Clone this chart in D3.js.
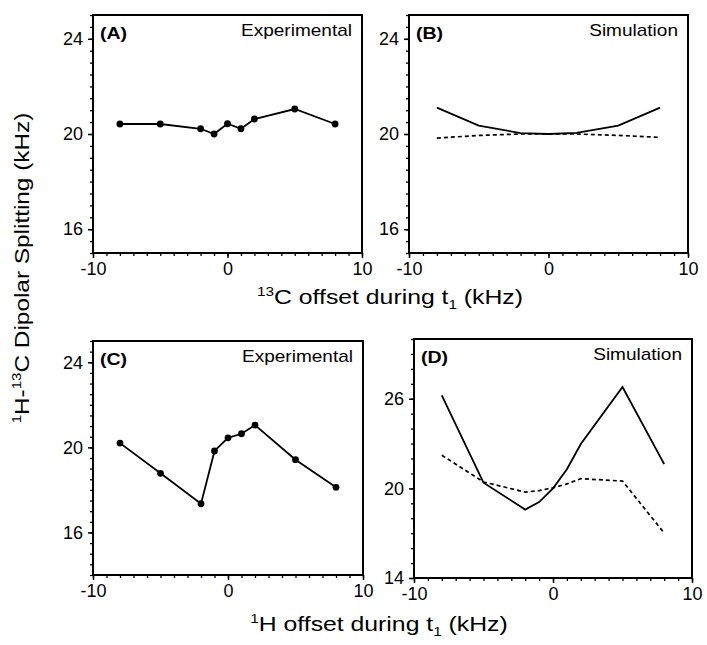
<!DOCTYPE html>
<html>
<head>
<meta charset="utf-8">
<script src="https://cdn.jsdelivr.net/npm/d3@7"></script>
<style>
  body { margin: 0; background: #fff; }
  svg text { font-family: "Liberation Sans", Arial, Helvetica, sans-serif; fill: #000; }
</style>
</head>
<body>
<svg id="chart" width="707" height="645"></svg>
<script>
// offsets in kHz
const offsets = [-8, -5, -2, -1, 0, 1, 2, 5, 8];
const simOffsetsB = [-8, -5, -2, 0, 2, 5, 8];

// (A) experimental, 13C offset
const expA = [20.42, 20.42, 20.22, 20.0, 20.43, 20.22, 20.63, 21.05, 20.42];
// (B) simulation, 13C offset
const simBSolid = [21.11, 20.35, 20.04, 20.0, 20.05, 20.35, 21.11];
const simBDash = [19.83, 19.94, 20.0, 20.0, 20.0, 19.94, 19.86];
// (C) experimental, 1H offset
const expC = [20.2, 18.78, 17.35, 19.83, 20.45, 20.64, 21.05, 19.42, 18.12];
// (D) simulation, 1H offset
const simDSolid = [26.22, 20.38, 18.58, 19.08, 20.0, 21.28, 22.97, 26.79, 21.62];
const simDDash = [22.22, 20.43, 19.75, 19.85, 20.04, 20.3, 20.65, 20.49, 17.01];

const xTicks = [-10, 0, 10];

const svg = d3.select("#chart");
const fmt = d => String(d);   // plain hyphen, like the original

// text that is a bit wider than Liberation Sans (the figure used Helvetica)
function wideText(x, y, size, sx, anchor) {
    return svg.append("g")
        .attr("transform", `translate(${x},${y}) scale(${sx},1)`)
        .append("text")
        .attr("font-size", size)
        .attr("text-anchor", anchor || "start");
}

function drawPanel(p) {
    const x = d3.scaleLinear().domain([-10, 10]).range([p.left, p.right]);
    const y = d3.scaleLinear().domain(p.yDomain).range([p.bottom, p.top]);
    const g = svg.append("g");

    // minor ticks
    g.append("g")
        .attr("transform", `translate(0,${p.bottom})`)
        .call(d3.axisBottom(x).tickValues(d3.range(-10, 10.01, 1)).tickSize(3).tickFormat(""))
        .call(a => a.select(".domain").remove())
        .selectAll("line").attr("stroke-width", 1.3);
    g.append("g")
        .attr("transform", `translate(${p.left},0)`)
        .call(d3.axisLeft(y).tickValues(d3.range(p.yDomain[0], p.yDomain[1] + 0.01, p.minor)).tickSize(3).tickFormat(""))
        .call(a => a.select(".domain").remove())
        .selectAll("line").attr("stroke-width", 1.3);

    // major ticks + labels
    const xa = g.append("g")
        .attr("transform", `translate(0,${p.bottom})`)
        .call(d3.axisBottom(x).tickValues(xTicks).tickSize(5).tickPadding(4).tickFormat(fmt));
    xa.select(".domain").remove();
    xa.selectAll("line").attr("stroke-width", 1.5);
    xa.selectAll("text").attr("font-size", 18).style("font-family", '"Liberation Sans", Arial, sans-serif');

    const ya = g.append("g")
        .attr("transform", `translate(${p.left},0)`)
        .call(d3.axisLeft(y).tickValues(p.yTicks).tickSize(5).tickPadding(5).tickFormat(fmt));
    ya.select(".domain").remove();
    ya.selectAll("line").attr("stroke-width", 1.5);
    ya.selectAll("text").attr("font-size", 18).style("font-family", '"Liberation Sans", Arial, sans-serif');

    // frame
    g.append("rect")
        .attr("x", p.left).attr("y", p.top)
        .attr("width", p.right - p.left).attr("height", p.bottom - p.top)
        .attr("fill", "none").attr("stroke", "#000").attr("stroke-width", 2);

    const line = d3.line().x(d => x(d[0])).y(d => y(d[1]));
    p.series.forEach(s => {
        const pts = s.xs.map((v, i) => [v, s.ys[i]]);
        g.append("path")
            .datum(pts)
            .attr("d", line)
            .attr("fill", "none")
            .attr("stroke", "#000")
            .attr("stroke-width", s.dash ? 1.7 : 1.8)
            .attr("stroke-dasharray", s.dash ? "4,3" : null);
        if (s.dots) {
            g.selectAll(null).data(pts).enter().append("circle")
                .attr("cx", d => x(d[0])).attr("cy", d => y(d[1]))
                .attr("r", 3.4).attr("fill", "#000");
        }
    });

    wideText(p.left + 7, p.top + 24, 17, 1.15).attr("font-weight", "bold").text(p.letter);
    wideText(p.right - 10, p.top + 21, 17, 1.12, "end").text(p.label);
}

drawPanel({
    left: 93, right: 362, top: 15, bottom: 253,
    yDomain: [15, 25], yTicks: [16, 20, 24], minor: 0.5,
    letter: "(A)", label: "Experimental",
    series: [{ xs: offsets, ys: expA, dots: true }]
});
drawPanel({
    left: 409, right: 688, top: 15, bottom: 253,
    yDomain: [15, 25], yTicks: [16, 20, 24], minor: 0.5,
    letter: "(B)", label: "Simulation",
    series: [{ xs: simOffsetsB, ys: simBSolid }, { xs: simOffsetsB, ys: simBDash, dash: true }]
});
drawPanel({
    left: 93, right: 363, top: 341, bottom: 575,
    yDomain: [14, 25], yTicks: [16, 20, 24], minor: 0.5,
    letter: "(C)", label: "Experimental",
    series: [{ xs: offsets, ys: expC, dots: true }]
});
drawPanel({
    left: 414, right: 692, top: 339, bottom: 578,
    yDomain: [14, 30], yTicks: [14, 20, 26], minor: 1,
    letter: "(D)", label: "Simulation",
    series: [{ xs: offsets, ys: simDSolid }, { xs: offsets, ys: simDDash, dash: true }]
});

// axis titles
const t1 = wideText(390, 304, 21, 1.18, "middle");
t1.append("tspan").attr("font-size", 13).attr("dy", -8).text("13");
t1.append("tspan").attr("dy", 8).text("C offset during t");
t1.append("tspan").attr("font-size", 13).attr("dy", 5).text("1");
t1.append("tspan").attr("dy", -5).text(" (kHz)");

const t2 = wideText(379, 631, 21, 1.18, "middle");
t2.append("tspan").attr("font-size", 13).attr("dy", -8).text("1");
t2.append("tspan").attr("dy", 8).text("H offset during t");
t2.append("tspan").attr("font-size", 13).attr("dy", 5).text("1");
t2.append("tspan").attr("dy", -5).text(" (kHz)");

const yt = svg.append("g")
    .attr("transform", "translate(29,268) rotate(-90) scale(1.16,1)")
    .append("text").attr("font-size", 21).attr("text-anchor", "middle");
yt.append("tspan").attr("font-size", 13).attr("dy", -8).text("1");
yt.append("tspan").attr("dy", 8).text("H-");
yt.append("tspan").attr("font-size", 13).attr("dy", -8).text("13");
yt.append("tspan").attr("dy", 8).text("C Dipolar Splitting (kHz)");
</script>
</body>
</html>
